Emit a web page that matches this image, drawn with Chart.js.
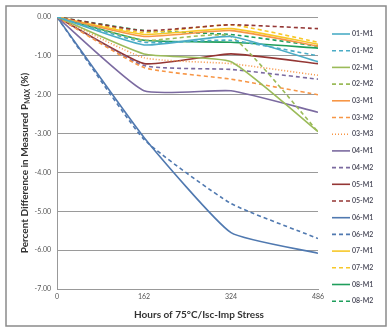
<!DOCTYPE html>
<html lang="en">
<head>
<meta charset="UTF-8" />
<title>Pmax change</title>
<script src="https://cdn.jsdelivr.net/npm/chart.js"></script>
<style>
  html, body { margin: 0; padding: 0; background: #fff; }
  .canvas { width: 392px; height: 334px; position: relative; }
</style>
</head>
<body>
<div class="canvas"><canvas id="myChart"></canvas></div>
<script>
// hours of stress (x) and y ticks
let hours = [0, 162, 324, 486];
let yTicks = [0, -1, -2, -3, -4, -5, -6, -7];

// series values, percent difference in Pmax
let s01M1 = [0, -0.72, -0.5, -1.15];
let s01M2 = [0, -0.65, -0.6, -1.0];
let s02M1 = [0, -0.95, -1.15, -2.95];
let s02M2 = [0, -0.6, -0.5, -2.95];
let s03M1 = [0, -0.5, -0.35, -0.75];
let s03M2 = [0, -1.3, -1.6, -2.0];
let s03M3 = [0, -1.05, -1.2, -1.5];
let s04M1 = [0, -1.9, -1.9, -2.45];
let s04M2 = [0, -1.25, -1.35, -1.6];
let s05M1 = [0, -1.2, -0.95, -1.2];
let s05M2 = [0, -0.35, -0.2, -0.3];
let s06M1 = [0, -3.1, -5.55, -6.08];
let s06M2 = [0, -3.15, -4.8, -5.7];
let s07M1 = [0, -0.45, -0.3, -0.7];
let s07M2 = [0, -0.4, -0.2, -0.65];
let s08M1 = [0, -0.6, -0.65, -0.8];
let s08M2 = [0, -0.35, -0.45, -0.75];

let names = ["01-M1","01-M2","02-M1","02-M2","03-M1","03-M2","03-M3","04-M1","04-M2",
             "05-M1","05-M2","06-M1","06-M2","07-M1","07-M2","08-M1","08-M2"];
let values = [s01M1,s01M2,s02M1,s02M2,s03M1,s03M2,s03M3,s04M1,s04M2,
              s05M1,s05M2,s06M1,s06M2,s07M1,s07M2,s08M1,s08M2];

let colors = {
  "01": "#4bacc6", "02": "#9bbb59", "03": "#f79646", "04": "#7b6aa0",
  "05": "#943634", "06": "#5079b0", "07": "#f7c829", "08": "#1f9e5c"
};

function dashFor(name) {
  if (name.endsWith("M3")) return [1, 2];
  if (name.endsWith("M2")) return [4, 3];
  return [];
}

let datasets = names.map((n, i) => ({
  label: n,
  data: hours.map((h, j) => ({ x: h, y: values[i][j] })),
  borderColor: colors[n.slice(0, 2)],
  backgroundColor: colors[n.slice(0, 2)],
  borderDash: dashFor(n),
  borderWidth: 1.6,
  pointRadius: 0,
  tension: 0.15,
  fill: false,
}));

const extras = {
  id: "extras",
  afterDraw(chart) {
    const ctx = chart.ctx;
    ctx.save();
    // frame
    ctx.strokeStyle = "#8a8a8a";
    ctx.lineWidth = 1.5;
    ctx.strokeRect(6, 6, 380, 320);

    // legend
    ctx.font = "600 7px Lato";
    ctx.textBaseline = "middle";
    ctx.textAlign = "left";
    chart.data.datasets.forEach((ds, i) => {
      const y = 34 + i * 16.7;
      ctx.strokeStyle = ds.borderColor;
      ctx.lineWidth = 1.6;
      ctx.setLineDash(ds.borderDash);
      ctx.beginPath();
      ctx.moveTo(332, y);
      ctx.lineTo(350, y);
      ctx.stroke();
      ctx.setLineDash([]);
      ctx.fillStyle = "#454555";
      ctx.fillText(ds.label, 352, y);
    });

    // x title
    ctx.fillStyle = "#333";
    ctx.font = "bold 10px Lato";
    ctx.textAlign = "center";
    ctx.textBaseline = "middle";
    ctx.fillText("Hours of 75°C/Isc-Imp Stress", 199, 315);

    // y title with subscript
    ctx.translate(25, 163);
    ctx.rotate(-Math.PI / 2);
    ctx.textAlign = "left";
    const a = "Percent Difference in Measured P", b = "MAX", c = " (%)";
    ctx.font = "bold 10px Lato";
    const wa = ctx.measureText(a).width, wc = ctx.measureText(c).width;
    ctx.font = "bold 6.5px Lato";
    const wb = ctx.measureText(b).width;
    let x0 = -(wa + wb + wc) / 2;
    ctx.font = "bold 10px Lato";
    ctx.fillText(a, x0, 0);
    ctx.font = "bold 6.5px Lato";
    ctx.fillText(b, x0 + wa, 2.5);
    ctx.font = "bold 10px Lato";
    ctx.fillText(c, x0 + wa + wb, 0);
    ctx.restore();
  }
};

new Chart(document.getElementById("myChart"), {
  type: "line",
  data: { datasets: datasets },
  options: {
    responsive: true,
    maintainAspectRatio: false,
    animation: false,
    layout: { padding: { left: 8, top: 17, right: 74, bottom: 0 } },
    plugins: { legend: { display: false }, tooltip: { enabled: false } },
    scales: {
      x: {
        type: "linear",
        min: 0,
        max: 486,
        afterBuildTicks: (s) => { s.ticks = hours.map((v) => ({ value: v })); },
        afterFit: (s) => { s.height = 45; },
        grid: { display: false, drawTicks: false },
        border: { display: true, color: "#999", width: 1 },
        ticks: { padding: 4, color: "#555", font: { family: "Lato", size: 7 } },
      },
      y: {
        min: -7,
        max: 0,
        afterBuildTicks: (s) => { s.ticks = yTicks.map((v) => ({ value: v })); },
        afterFit: (s) => { s.width = 49; },
        grid: { color: "#9a9a9a", lineWidth: 1, drawTicks: false },
        border: { display: true, color: "#999", width: 1 },
        ticks: {
          padding: 6,
          color: "#555",
          font: { family: "Lato", size: 7 },
          callback: (v) => Number(v).toFixed(2),
        },
      },
    },
  },
  plugins: [extras],
});
</script>
</body>
</html>
